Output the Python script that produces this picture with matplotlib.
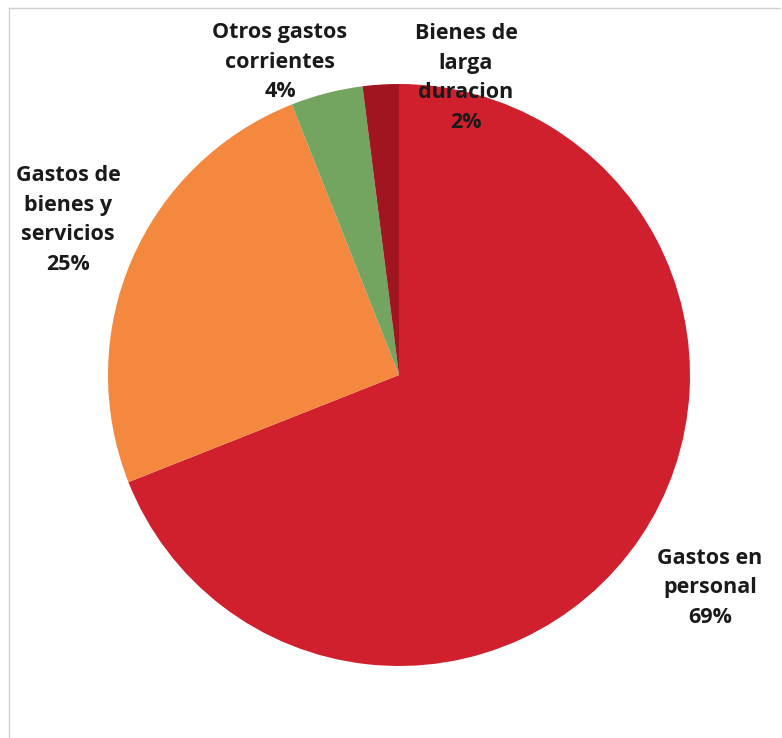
import matplotlib
matplotlib.use("Agg")
import matplotlib.pyplot as plt

categories = ["Gastos en\npersonal", "Gastos de\nbienes y\nservicios", "Otros gastos\ncorrientes", "Bienes de\nlarga\nduracion"]
values = [69, 25, 4, 2]
colors = ["#D0202E", "#F4883F", "#73A560", "#A01520"]

W, H = 782, 738
fig = plt.figure(figsize=(W / 100, H / 100), dpi=100)
ax = fig.add_axes([0, 0, 1, 1])

cx, cy, r = 399, H - 375, 291
ax.pie(values, colors=colors, startangle=90, counterclock=False,
       center=(cx, cy), radius=r, frame=True,
       wedgeprops=dict(linewidth=0))
ax.set_xlim(0, W)
ax.set_ylim(0, H)
ax.set_aspect("equal")
ax.axis("off")

# faint frame (only top and left visible in reference)
ax.plot([9, W - 2], [H - 8, H - 8], color="#D0D0D0", lw=1)
ax.plot([9, 9], [H - 8, 0], color="#D0D0D0", lw=1)

label_pos = [(710, 588), (68, 220), (280, 62), (466, 78)]
for cat, v, (px, py) in zip(categories, values, label_pos):
    ax.text(px, H - py, f"{cat}\n{v}%", ha="center", va="center",
            fontsize=15.5, fontweight="bold", family="Open Sans",
            color="#1A1A1A", linespacing=1.55)

fig.savefig("out.png", dpi=100)
